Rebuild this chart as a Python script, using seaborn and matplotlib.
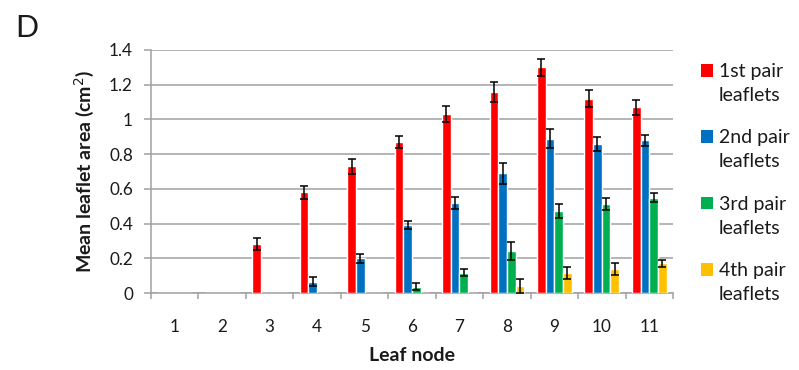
import matplotlib
matplotlib.use("Agg")
import matplotlib.pyplot as plt
from matplotlib.patches import Rectangle
from matplotlib.legend_handler import HandlerPatch
import seaborn as sns
import pandas as pd

# Mean leaflet area per leaf node, with standard errors
leaf_nodes = ["1", "2", "3", "4", "5", "6", "7", "8", "9", "10", "11"]
series_names = ["1st pair\nleaflets", "2nd pair\nleaflets", "3rd pair\nleaflets", "4th pair\nleaflets"]
pair1 = [0, 0, 0.28, 0.58, 0.73, 0.87, 1.03, 1.16, 1.30, 1.12, 1.07]
pair1_err = [0, 0, 0.035, 0.038, 0.043, 0.037, 0.046, 0.057, 0.050, 0.048, 0.043]
pair2 = [0, 0, 0, 0.065, 0.20, 0.39, 0.52, 0.69, 0.89, 0.86, 0.88]
pair2_err = [0, 0, 0, 0.025, 0.026, 0.022, 0.035, 0.060, 0.053, 0.040, 0.033]
pair3 = [0, 0, 0, 0, 0, 0.036, 0.118, 0.244, 0.472, 0.513, 0.549]
pair3_err = [0, 0, 0, 0, 0, 0.020, 0.021, 0.052, 0.039, 0.036, 0.025]
pair4 = [0, 0, 0, 0, 0, 0, 0, 0.042, 0.113, 0.138, 0.171]
pair4_err = [0, 0, 0, 0, 0, 0, 0, 0.041, 0.035, 0.037, 0.021]
colors = ["#FF0000", "#0070C0", "#00B050", "#FFC000"]
y_ticks = [0, 0.2, 0.4, 0.6, 0.8, 1.0, 1.2, 1.4]
y_tick_labels = ["0", "0.2", "0.4", "0.6", "0.8", "1", "1.2", "1.4"]

values = [pair1, pair2, pair3, pair4]
errors = [pair1_err, pair2_err, pair3_err, pair4_err]
df = pd.DataFrame({
    "leaf": [n for _ in series_names for n in leaf_nodes],
    "pair": [s for s in series_names for _ in leaf_nodes],
    "area": [v for vals in values for v in vals],
})

sns.set_theme(style="white")
plt.rcParams["font.family"] = ["Lato", "DejaVu Sans"]

grey = "#a0a0a0"
ink = "#1a1a1a"
fig = plt.figure(figsize=(7.99, 3.70), dpi=100)
ax = fig.add_axes([0.1890, 0.2081, 0.6533, 0.6568])

sns.barplot(data=df, x="leaf", y="area", hue="pair", order=leaf_nodes,
            hue_order=series_names, palette=colors, saturation=1,
            width=0.73, errorbar=None, legend=False, ax=ax, zorder=3)

# symmetric error bars on each bar
for container, errs in zip(ax.containers, errors):
    for patch, e in zip(container.patches, errs):
        if e > 0:
            ax.errorbar(patch.get_x() + patch.get_width() / 2, patch.get_height(),
                        yerr=e, fmt="none", ecolor="black", elinewidth=1.1,
                        capsize=2.9, capthick=1.1, zorder=4)

ax.set_ylim(0, 1.4)
ax.set_xlim(-0.5, len(leaf_nodes) - 0.5)
ax.set_yticks(y_ticks)
ax.set_yticklabels(y_tick_labels)
ax.yaxis.grid(True, color=grey, linewidth=1.1, zorder=0)
ax.set_axisbelow(True)
for side in ["top", "right"]:
    ax.spines[side].set_visible(False)
for side in ["left", "bottom"]:
    ax.spines[side].set_color(grey)
    ax.spines[side].set_linewidth(1.1)

ax.tick_params(axis="y", which="major", direction="out", length=5, width=1.1,
               color=grey, pad=8, labelsize=12.3, labelcolor=ink, left=True)
ax.tick_params(axis="x", which="major", length=0, pad=19, labelsize=12.3,
               labelcolor=ink)
ax.set_xticks([i - 0.5 for i in range(len(leaf_nodes) + 1)], minor=True)
ax.tick_params(axis="x", which="minor", direction="out", length=4.5, width=1.1,
               color=grey, bottom=True)

ax.set_xlabel("Leaf node", fontsize=14, fontweight="bold", labelpad=8, color=ink)
ax.set_ylabel("Mean leaflet area (cm$^2$)", fontsize=14, fontweight="bold",
              labelpad=9, color=ink)

fig.text(15 / 799, 1 - 37 / 370, "D", fontsize=22, color=ink, va="baseline")


def top_square(legend, orig_handle, xdescent, ydescent, width, height, fontsize):
    return Rectangle((-xdescent, -ydescent + 0.68 * fontsize), width, height)


handles = [Rectangle((0, 0), 1, 1, facecolor=c, edgecolor="none") for c in colors]
leg = fig.legend(handles, series_names, loc="upper left",
                 bbox_to_anchor=(701 / 799, 1 - 63 / 370), frameon=False,
                 fontsize=14, handlelength=0.62, handleheight=0.62,
                 handletextpad=0.3, labelspacing=1.3, borderpad=0,
                 borderaxespad=0,
                 handler_map={Rectangle: HandlerPatch(patch_func=top_square)},
                 labelcolor=ink)
for t in leg.get_texts():
    t.set_linespacing(1.5)

fig.savefig("out.png", dpi=100)
